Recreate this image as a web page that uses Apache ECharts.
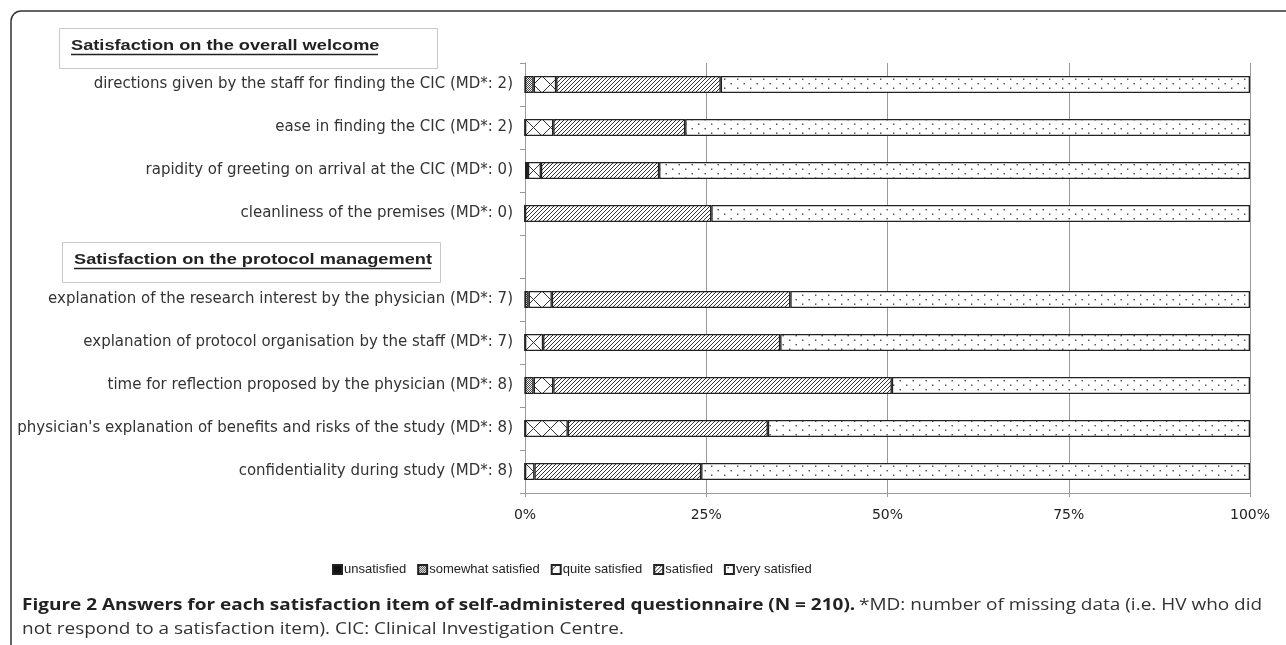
<!DOCTYPE html>
<html>
<head>
    <meta charset="utf-8">
    <title>ECharts</title>
    <script src="https://cdn.jsdelivr.net/npm/echarts@6/dist/echarts.min.js"></script>
    <style>
        html, body { margin: 0; padding: 0; background: #fff; }
    </style>
</head>
<body>
    <div id="main" style="width: 1286px;height:645px;"></div>
    <script type="text/javascript">
    // categories, top to bottom ('' = gap row for the second section header)
    var categories = [
        'directions given by the staff for finding the CIC (MD*: 2)',
        'ease in finding the CIC (MD*: 2)',
        'rapidity of greeting on arrival at the CIC (MD*: 0)',
        'cleanliness of the premises (MD*: 0)',
        '',
        'explanation of the research interest by the physician (MD*: 7)',
        'explanation of protocol organisation by the staff (MD*: 7)',
        'time for reflection proposed by the physician (MD*: 8)',
        "physician's explanation of benefits and risks of the study (MD*: 8)",
        'confidentiality during study (MD*: 8)'
    ];
    var seriesNames = ['unsatisfied', 'somewhat satisfied', 'quite satisfied', 'satisfied', 'very satisfied'];

    // percentages
    var unsatisfied       = [0,    0,    0.4,  0,    '-', 0,    0,    0,    0,    0];
    var somewhatSatisfied = [1.2,  0,    0,    0,    '-', 0.5,  0,    1.2,  0,    0];
    var quiteSatisfied    = [3.1,  3.9,  1.8,  0,    '-', 3.2,  2.5,  2.7,  5.9,  1.3];
    var satisfied         = [22.7, 18.2, 16.3, 25.7, '-', 32.9, 32.7, 46.7, 27.6, 23.0];
    var verySatisfied     = [73.0, 77.9, 81.5, 74.3, '-', 63.4, 64.8, 49.4, 66.5, 75.7];

    var xTicks = [0, 25, 50, 75, 100];

    // fill patterns like the printed figure
    function makePattern(w, h, draw) {
        var c = document.createElement('canvas');
        c.width = w; c.height = h;
        var ctx = c.getContext('2d');
        ctx.fillStyle = '#fff';
        ctx.fillRect(0, 0, w, h);
        draw(ctx, w, h);
        return { image: c, repeat: 'repeat' };
    }
    var patSomewhat = makePattern(2, 2, function (ctx) {
        ctx.fillStyle = '#444';
        ctx.fillRect(0, 0, 1, 1);
        ctx.fillRect(1, 1, 1, 1);
    });
    // big X per bar height: tile follows the 43px category band
    var patQuite = makePattern(17, 43, function (ctx, w, h) {
        ctx.strokeStyle = '#333';
        ctx.lineWidth = 1;
        var ox = 15, oy = 33, s = 17;
        [[0, 0], [-w, 0], [0, -h], [-w, -h]].forEach(function (d) {
            var x0 = ox + d[0], y0 = oy + d[1];
            ctx.beginPath();
            ctx.moveTo(x0, y0); ctx.lineTo(x0 + s, y0 + s);
            ctx.moveTo(x0 + s, y0); ctx.lineTo(x0, y0 + s);
            ctx.stroke();
        });
    });
    var patSatisfied = makePattern(4, 4, function (ctx, w, h) {
        ctx.strokeStyle = '#333';
        ctx.lineWidth = 1;
        ctx.beginPath();
        ctx.moveTo(0, h); ctx.lineTo(w, 0);
        ctx.moveTo(-1, 1); ctx.lineTo(1, -1);
        ctx.moveTo(w - 1, h + 1); ctx.lineTo(w + 1, h - 1);
        ctx.stroke();
    });
    var patVery = makePattern(13, 9, function (ctx) {
        ctx.fillStyle = '#444';
        ctx.fillRect(2.5, 2, 1.4, 1.4);
        ctx.fillRect(9, 6.5, 1.4, 1.4);
    });

    var fills = ['#111', patSomewhat, patQuite, patSatisfied, patVery];
    var values = [unsatisfied, somewhatSatisfied, quiteSatisfied, satisfied, verySatisfied];

    var myChart = echarts.init(document.getElementById('main'));
    var labelFont = 'DejaVu Sans, Liberation Sans, sans-serif';
    var arial = 'Liberation Sans, Arial, sans-serif';

    var option = {
        animation: false,
        backgroundColor: '#fff',
        textStyle: { fontFamily: labelFont },
        grid: { left: 525, right: 36, top: 63, bottom: 152, containLabel: false },
        legend: {
            left: 327,
            top: 558,
            itemWidth: 9,
            itemHeight: 9,
            itemGap: 11,
            icon: 'rect',
            textStyle: { fontFamily: arial, fontSize: 13, color: '#222', padding: [0, 0, 0, -3] },
            data: seriesNames
        },
        xAxis: {
            type: 'value',
            min: 0,
            max: 100,
            interval: 25,
            axisLine: { show: true, lineStyle: { color: '#999' } },
            axisTick: { show: true, length: 4, lineStyle: { color: '#999' } },
            splitLine: { show: true, lineStyle: { color: '#999', width: 1 } },
            axisLabel: {
                fontSize: 14,
                color: '#222',
                margin: 15,
                formatter: function (v) { return xTicks.indexOf(v) >= 0 ? v + '%' : ''; }
            }
        },
        yAxis: {
            type: 'category',
            inverse: true,
            data: categories,
            axisLine: { show: true, lineStyle: { color: '#999' } },
            axisTick: { show: true, length: 5, lineStyle: { color: '#999' } },
            axisLabel: { fontSize: 15, color: '#333', margin: 12 }
        },
        series: seriesNames.map(function (name, i) {
            return {
                name: name,
                type: 'bar',
                stack: 'total',
                barWidth: 17,
                data: values[i],
                itemStyle: { color: fills[i], borderColor: '#222', borderWidth: 1.3 }
            };
        }),
        graphic: [
            {
                type: 'rect',
                shape: { x: 11, y: 11, width: 1400, height: 800, r: 10 },
                style: { fill: 'none', stroke: '#333', lineWidth: 1.5 },
                silent: true
            },
            {
                type: 'rect',
                shape: { x: 59.5, y: 28.5, width: 378, height: 40 },
                style: { fill: '#fff', stroke: '#c8c8c8', lineWidth: 1 }
            },
            {
                type: 'text',
                x: 71, y: 46,
                scaleX: 1.3,
                style: { text: 'Satisfaction on the overall welcome', fontFamily: arial, fontSize: 14, fontWeight: 'bold', fill: '#222', verticalAlign: 'middle' }
            },
            {
                type: 'line',
                shape: { x1: 71, y1: 54.5, x2: 378, y2: 54.5 },
                style: { stroke: '#222', lineWidth: 1.3 }
            },
            {
                type: 'rect',
                shape: { x: 62.5, y: 242.5, width: 378, height: 40 },
                style: { fill: '#fff', stroke: '#c8c8c8', lineWidth: 1 }
            },
            {
                type: 'text',
                x: 74, y: 260,
                scaleX: 1.3,
                style: { text: 'Satisfaction on the protocol management', fontFamily: arial, fontSize: 14, fontWeight: 'bold', fill: '#222', verticalAlign: 'middle' }
            },
            {
                type: 'line',
                shape: { x1: 74, y1: 268.5, x2: 431, y2: 268.5 },
                style: { stroke: '#222', lineWidth: 1.3 }
            },
            {
                type: 'text',
                x: 22, y: 605,
                scaleX: 1.15,
                style: {
                    text: '{b|Figure 2 Answers for each satisfaction item of self-administered questionnaire (N = 210).} {n|*MD: number of missing data (i.e. HV who did}',
                    verticalAlign: 'middle',
                    rich: {
                        b: { fontFamily: 'Open Sans', fontSize: 16.5, fontWeight: 'bold', fill: '#222' },
                        n: { fontFamily: 'Open Sans', fontSize: 16.5, fill: '#333' }
                    }
                }
            },
            {
                type: 'text',
                x: 22, y: 629,
                scaleX: 1.15,
                style: {
                    text: 'not respond to a satisfaction item). CIC: Clinical Investigation Centre.',
                    verticalAlign: 'middle',
                    fontFamily: 'Open Sans', fontSize: 16.5, fill: '#333'
                }
            }
        ]
    };

    myChart.setOption(option);
    </script>
</body>
</html>
